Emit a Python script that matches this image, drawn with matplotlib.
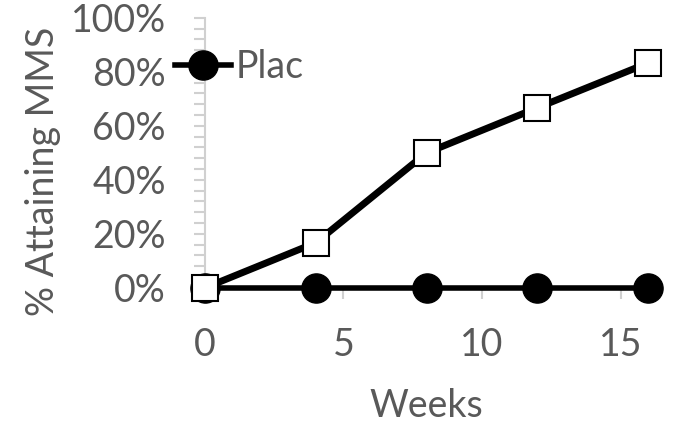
import matplotlib.pyplot as plt
from matplotlib.ticker import MultipleLocator, PercentFormatter

weeks = [0, 4, 8, 12, 16]
active = [0, 16.7, 50, 66.7, 83.3]
placebo = [0, 0, 0, 0, 0]

plt.rcParams['font.family'] = ['Lato', 'DejaVu Sans']
gray = '#595959'
axis_gray = '#d0d0d0'

fig = plt.figure(figsize=(6.76, 4.24), dpi=100)
ax = fig.add_axes([0.303, 0.321, 0.656, 0.637])

ax.plot(weeks, placebo, color='black', lw=4, marker='o', markersize=21,
        markerfacecolor='black', label='Plac', clip_on=False, zorder=3)
ax.plot(weeks, active, color='black', lw=5, marker='s', markersize=19,
        markerfacecolor='white', markeredgecolor='black', markeredgewidth=1.5,
        clip_on=False, zorder=4)

ax.set_xlim(0, 16)
ax.set_ylim(0, 100)
ax.xaxis.set_major_locator(MultipleLocator(5))
ax.yaxis.set_major_locator(MultipleLocator(20))
ax.yaxis.set_minor_locator(MultipleLocator(4))
ax.yaxis.set_major_formatter(PercentFormatter(decimals=0))

for s in ['top', 'right']:
    ax.spines[s].set_visible(False)
for s in ['left', 'bottom']:
    ax.spines[s].set_color(axis_gray)
    ax.spines[s].set_linewidth(1.5)

ax.tick_params(axis='both', which='both', color=axis_gray, width=1.5,
               length=8, labelsize=27, labelcolor=gray, pad=20)
ax.tick_params(axis='x', pad=20)

ax.set_xlabel('Weeks', fontsize=27, color=gray, labelpad=18)
ax.set_ylabel('% Attaining MMS', fontsize=27, color=gray)
ax.yaxis.set_label_coords(-0.325, 0.43)

leg = ax.legend(loc='upper left', bbox_to_anchor=(-0.068, 0.885), frameon=False,
                fontsize=27, labelcolor=gray, handlelength=1.5,
                handletextpad=0.12, borderaxespad=0, borderpad=0)

fig.savefig('out.png', dpi=100)
